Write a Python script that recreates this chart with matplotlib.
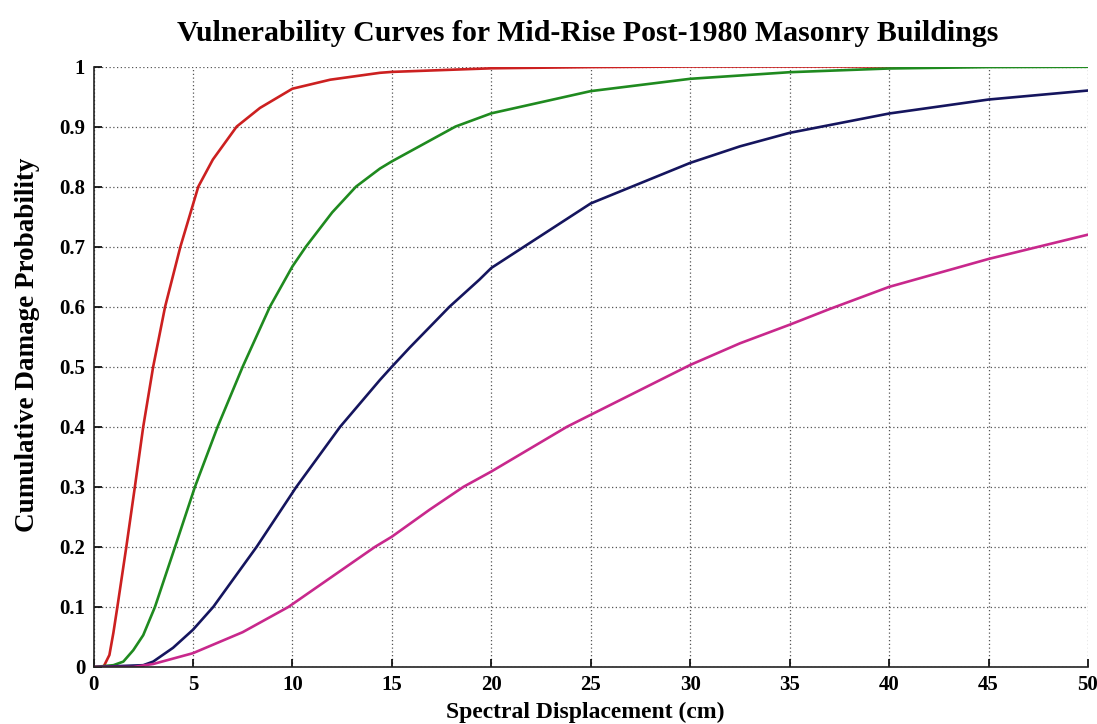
import matplotlib
matplotlib.use("Agg")
import matplotlib.pyplot as plt

# Data
red_x = [0, 0.5, 0.8, 1.0, 1.2, 1.65, 2.08, 2.5, 3.0, 3.6, 4.37, 5.27, 6.0, 7.2, 8.37, 10, 11.9, 14.4, 15, 20, 25, 30, 50]
red_y = [0, 0.0, 0.02, 0.057, 0.10, 0.20, 0.30, 0.40, 0.50, 0.60, 0.70, 0.80, 0.845, 0.90, 0.931, 0.963, 0.978, 0.9895, 0.991, 0.997, 0.999, 1.0, 1.0]

green_x = [0, 1.0, 1.5, 2.0, 2.5, 3.09, 4.1, 5.1, 6.24, 7.5, 8.87, 10, 10.68, 12.0, 13.2, 14.4, 15, 18.2, 20, 25, 30, 32.5, 35, 40, 45, 50]
green_y = [0, 0.003, 0.009, 0.028, 0.053, 0.10, 0.20, 0.30, 0.40, 0.50, 0.60, 0.667, 0.70, 0.757, 0.80, 0.83, 0.842, 0.90, 0.922, 0.959, 0.9795, 0.985, 0.9905, 0.9967, 0.999, 0.9995]

navy_x = [0, 2.5, 3.0, 4.0, 5.0, 6.02, 8.2, 10.2, 12.4, 14.4, 15.0, 15.9, 17.9, 19.4, 20, 25, 30, 32.5, 35, 40, 45, 50]
navy_y = [0, 0.003, 0.009, 0.032, 0.062, 0.10, 0.20, 0.30, 0.40, 0.478, 0.50, 0.532, 0.60, 0.645, 0.6645, 0.772, 0.8395, 0.867, 0.8895, 0.9217, 0.945, 0.96]

mag_x = [0, 2.0, 3.0, 5.0, 7.5, 9.8, 14.15, 15, 16.9, 18.6, 20, 23.8, 25, 30, 32.5, 35, 37.0, 40, 45, 50]
mag_y = [0, 0.0, 0.005, 0.023, 0.058, 0.10, 0.20, 0.217, 0.262, 0.30, 0.3255, 0.40, 0.42, 0.503, 0.539, 0.57, 0.596, 0.633, 0.6795, 0.72]

x_ticks = [0, 5, 10, 15, 20, 25, 30, 35, 40, 45, 50]
y_ticks = [0, 0.1, 0.2, 0.3, 0.4, 0.5, 0.6, 0.7, 0.8, 0.9, 1.0]
y_tick_labels = ["0", "0.1", "0.2", "0.3", "0.4", "0.5", "0.6", "0.7", "0.8", "0.9", "1"]

plt.rcParams['font.family'] = ['Liberation Serif', 'DejaVu Serif']
plt.rcParams['font.weight'] = 'bold'

W, H = 1097, 724
fig = plt.figure(figsize=(W / 100, H / 100), dpi=100)
ax = fig.add_axes([93.5 / W, 1 - 667 / H, 994.5 / W, 600.5 / H])

lw = 1.9
ax.plot(red_x, red_y, color='#cc2020', lw=lw, solid_joinstyle='round')
ax.plot(green_x, green_y, color='#1f8a1f', lw=lw, solid_joinstyle='round')
ax.plot(navy_x, navy_y, color='#15155e', lw=lw, solid_joinstyle='round')
ax.plot(mag_x, mag_y, color='#c8288c', lw=lw, solid_joinstyle='round')

ax.set_xlim(0, 50)
ax.set_ylim(0, 1)
ax.set_xticks(x_ticks)
ax.set_xticklabels([str(v) for v in x_ticks])
ax.set_yticks(y_ticks)
ax.set_yticklabels(y_tick_labels)

ax.grid(True, color='#555555', linestyle=(0, (1, 2)), linewidth=0.9)
ax.spines['top'].set_visible(False)
ax.spines['right'].set_visible(False)
for s in ('left', 'bottom'):
    ax.spines[s].set_linewidth(1.2)
    ax.spines[s].set_color('#222222')
ax.tick_params(direction='in', length=6, width=1.2, labelsize=15, pad=6)
for lab in ax.get_xticklabels() + ax.get_yticklabels():
    lab.set_fontweight('bold')

ax.set_xlabel('Spectral Displacement (cm)', fontsize=17, fontweight='bold')
ax.xaxis.set_label_coords(0.4945, -0.085)
ax.xaxis.label.set_va('baseline')
ax.set_ylabel('Cumulative Damage Probability', fontsize=19.5, fontweight='bold')
ax.yaxis.set_label_coords(-0.0665, 0.536)
ax.yaxis.label.set_va('center')

fig.text(588 / W, 1 - 41 / H, 'Vulnerability Curves for Mid-Rise Post-1980 Masonry Buildings',
         fontsize=21.5, fontweight='bold', ha='center', va='baseline')

fig.savefig('out.png', dpi=100)
